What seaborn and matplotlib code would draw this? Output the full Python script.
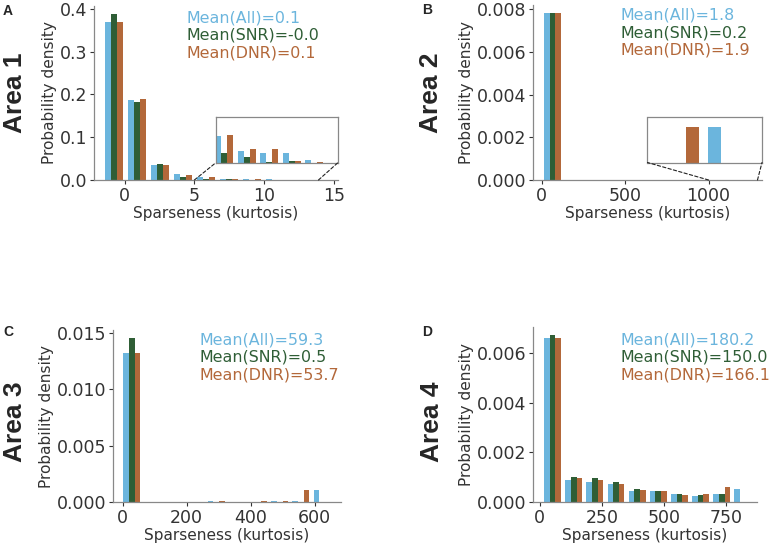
import numpy as np
import pandas as pd
import seaborn as sns
import matplotlib
matplotlib.use("Agg")
import matplotlib.pyplot as plt
from matplotlib.patches import ConnectionPatch

# histogram densities per bin
groups = ["All", "SNR", "DNR"]
colors = {"All": "#6bb5dd", "SNR": "#2f5e36", "DNR": "#b3683a"}

# Area 1: 10 bins starting at -1.6, width 1.65
a1_start, a1_width = -1.6, 1.65
a1_all = [0.369, 0.1875, 0.035, 0.013, 0.0059, 0.0025, 0.0021, 0.0021, 0.0005, 0.0]
a1_snr = [0.387, 0.181, 0.0367, 0.008, 0.0021, 0.0012, 0.0002, 0.0004, 0.0, 0.0]
a1_dnr = [0.369, 0.189, 0.035, 0.0125, 0.006, 0.0031, 0.0031, 0.0004, 0.00015, 0.0]
a1_means = ["0.1", "-0.0", "0.1"]

# Area 2
a2_start, a2_width = 0.0, 128.0
a2_all = [0.00781, 0, 0, 0, 0, 0, 0, 0, 0, 7.8e-6]
a2_snr = [0.00781, 0, 0, 0, 0, 0, 0, 0, 0, 0]
a2_dnr = [0.00781, 0, 0, 0, 0, 0, 0, 0, 7.8e-6, 0]
a2_means = ["1.8", "0.2", "1.9"]

# Area 3
a3_start, a3_width = -4.4, 66.0
a3_all = [0.01321, 0, 0, 0, 0.00006, 0, 0, 0.00006, 0.00006, 0.00103]
a3_snr = [0.01453, 0, 0, 0, 0, 0, 0, 0, 0, 0]
a3_dnr = [0.01321, 0, 0, 0, 0.00006, 0, 0.00006, 0.00006, 0.00103, 0]
a3_means = ["59.3", "0.5", "53.7"]

# Area 4
a4_start, a4_width = 9.0, 85.0
a4_all = [0.00661, 0.0009, 0.0008, 0.00073, 0.00046, 0.00046, 0.00034, 0.00023, 0.00032, 0.00054]
a4_snr = [0.00673, 0.001, 0.00097, 0.00081, 0.00051, 0.00043, 0.00032, 0.00028, 0.00034, 0.0]
a4_dnr = [0.00661, 0.00097, 0.00088, 0.00074, 0.0005, 0.00046, 0.0003, 0.00034, 0.0006, 0.0]
a4_means = ["180.2", "150.0", "166.1"]

sns.set_style("ticks")
plt.rcParams["font.family"] = ["DejaVu Sans"]

W, H = 770, 545
fig = plt.figure(figsize=(7.7, 5.45), dpi=100)


def px_axes(l, t, r, b):
    return fig.add_axes([l / W, 1 - b / H, (r - l) / W, (b - t) / H])


def draw_hist(ax, start, width, vals):
    edges = [start + width * i for i in range(len(vals[0]) + 1)]
    centers = [(edges[i] + edges[i + 1]) / 2 for i in range(len(vals[0]))]
    frames = []
    for g, v in zip(groups, vals):
        frames.append(pd.DataFrame({"x": centers, "w": v, "group": g}))
    df = pd.concat(frames, ignore_index=True)
    sns.histplot(data=df, x="x", weights="w", hue="group", hue_order=groups,
                 bins=edges, multiple="dodge", shrink=0.8, stat="count",
                 palette=colors, alpha=1, linewidth=0, legend=False, ax=ax)


def style_main(ax, xlim, xticks):
    ax.set_xlim(xlim)
    ax.set_xticks(xticks)
    ax.set_xlabel("Sparseness (kurtosis)", fontsize=11.1, color="#333333", labelpad=1)
    ax.set_ylabel("Probability density", fontsize=11.1, color="#333333", labelpad=2)
    ax.tick_params(labelsize=12.5, colors="#333333", length=3, pad=2)
    for s in ["left", "bottom"]:
        ax.spines[s].set_color("#888888")
        ax.spines[s].set_linewidth(0.9)
    sns.despine(ax=ax)


def add_inset(ax, start, width, vals, xlim, ylim, src):
    ins = ax.inset_axes([0.5, 0.1, 0.5, 0.26])
    draw_hist(ins, start, width, vals)
    ins.set_xlim(xlim)
    ins.set_ylim(ylim)
    ins.set_xticks([])
    ins.set_yticks([])
    ins.set_xlabel("")
    ins.set_ylabel("")
    for s in ins.spines.values():
        s.set_visible(True)
        s.set_color("#888888")
        s.set_linewidth(0.9)
    for xa, xb in [(src[0], 0), (src[1], 1)]:
        con = ConnectionPatch(xyA=(xa, 0), coordsA=ax.transData,
                              xyB=(xb, 0), coordsB=ins.transAxes,
                              linestyle=(0, (3, 2)), color="#222222", linewidth=0.8)
        fig.add_artist(con)


def mean_text(x, y, means):
    for i, (g, m) in enumerate(zip(groups, means)):
        fig.text(x / W, 1 - (y + i * 17.5) / H, f"Mean({g})={m}", color=colors[g],
                 fontsize=11.4, va="center", ha="left")


def area_label(x, y, txt):
    fig.text(x / W, 1 - y / H, txt, rotation=90, fontsize=19, fontweight="bold",
             family="Liberation Sans", ha="center", va="center")


def letter(x, y, txt):
    fig.text(x / W, 1 - y / H, txt, fontsize=10, fontweight="bold",
             family="Liberation Sans", ha="center", va="center")


# panel A
axA = px_axes(94, 6, 338, 180)
draw_hist(axA, a1_start, a1_width, [a1_all, a1_snr, a1_dnr])
style_main(axA, (-2.2, 15.3), [0, 5, 10, 15])
axA.set_yticks([0.0, 0.1, 0.2, 0.3, 0.4])
add_inset(axA, a1_start, a1_width, [a1_all, a1_snr, a1_dnr], (5.2, 14.2), (0, 0.01), (5.0, 13.9))
mean_text(187, 18, a1_means)
area_label(15, 93, "Area 1")
letter(8, 11, "A")

# panel B
axB = px_axes(533, 5, 762, 180)
draw_hist(axB, a2_start, a2_width, [a2_all, a2_snr, a2_dnr])
style_main(axB, (-52, 1320), [0, 500, 1000])
axB.set_yticks([0.0, 0.002, 0.004, 0.006, 0.008])
axB.set_yticklabels(["0.000", "0.002", "0.004", "0.006", "0.008"])
add_inset(axB, a2_start, a2_width, [a2_all, a2_snr, a2_dnr], (1002, 1308), (0, 1e-5), (1000, 1293))
mean_text(620, 15, a2_means)
area_label(431, 93, "Area 2")
letter(427, 10, "B")

# panel C
axC = px_axes(113, 330, 341, 502)
draw_hist(axC, a3_start, a3_width, [a3_all, a3_snr, a3_dnr])
style_main(axC, (-30, 682), [0, 200, 400, 600])
axC.set_yticks([0.0, 0.005, 0.010, 0.015])
axC.set_yticklabels(["0.000", "0.005", "0.010", "0.015"])
mean_text(200, 340, a3_means)
area_label(15, 422, "Area 3")
letter(8, 332, "C")

# panel D
axD = px_axes(533, 327, 757, 502)
draw_hist(axD, a4_start, a4_width, [a4_all, a4_snr, a4_dnr])
style_main(axD, (-27, 873), [0, 250, 500, 750])
axD.set_yticks([0.0, 0.002, 0.004, 0.006])
axD.set_yticklabels(["0.000", "0.002", "0.004", "0.006"])
mean_text(620, 340, a4_means)
area_label(432, 422, "Area 4")
letter(427, 332, "D")

fig.savefig("out.png", dpi=100)
